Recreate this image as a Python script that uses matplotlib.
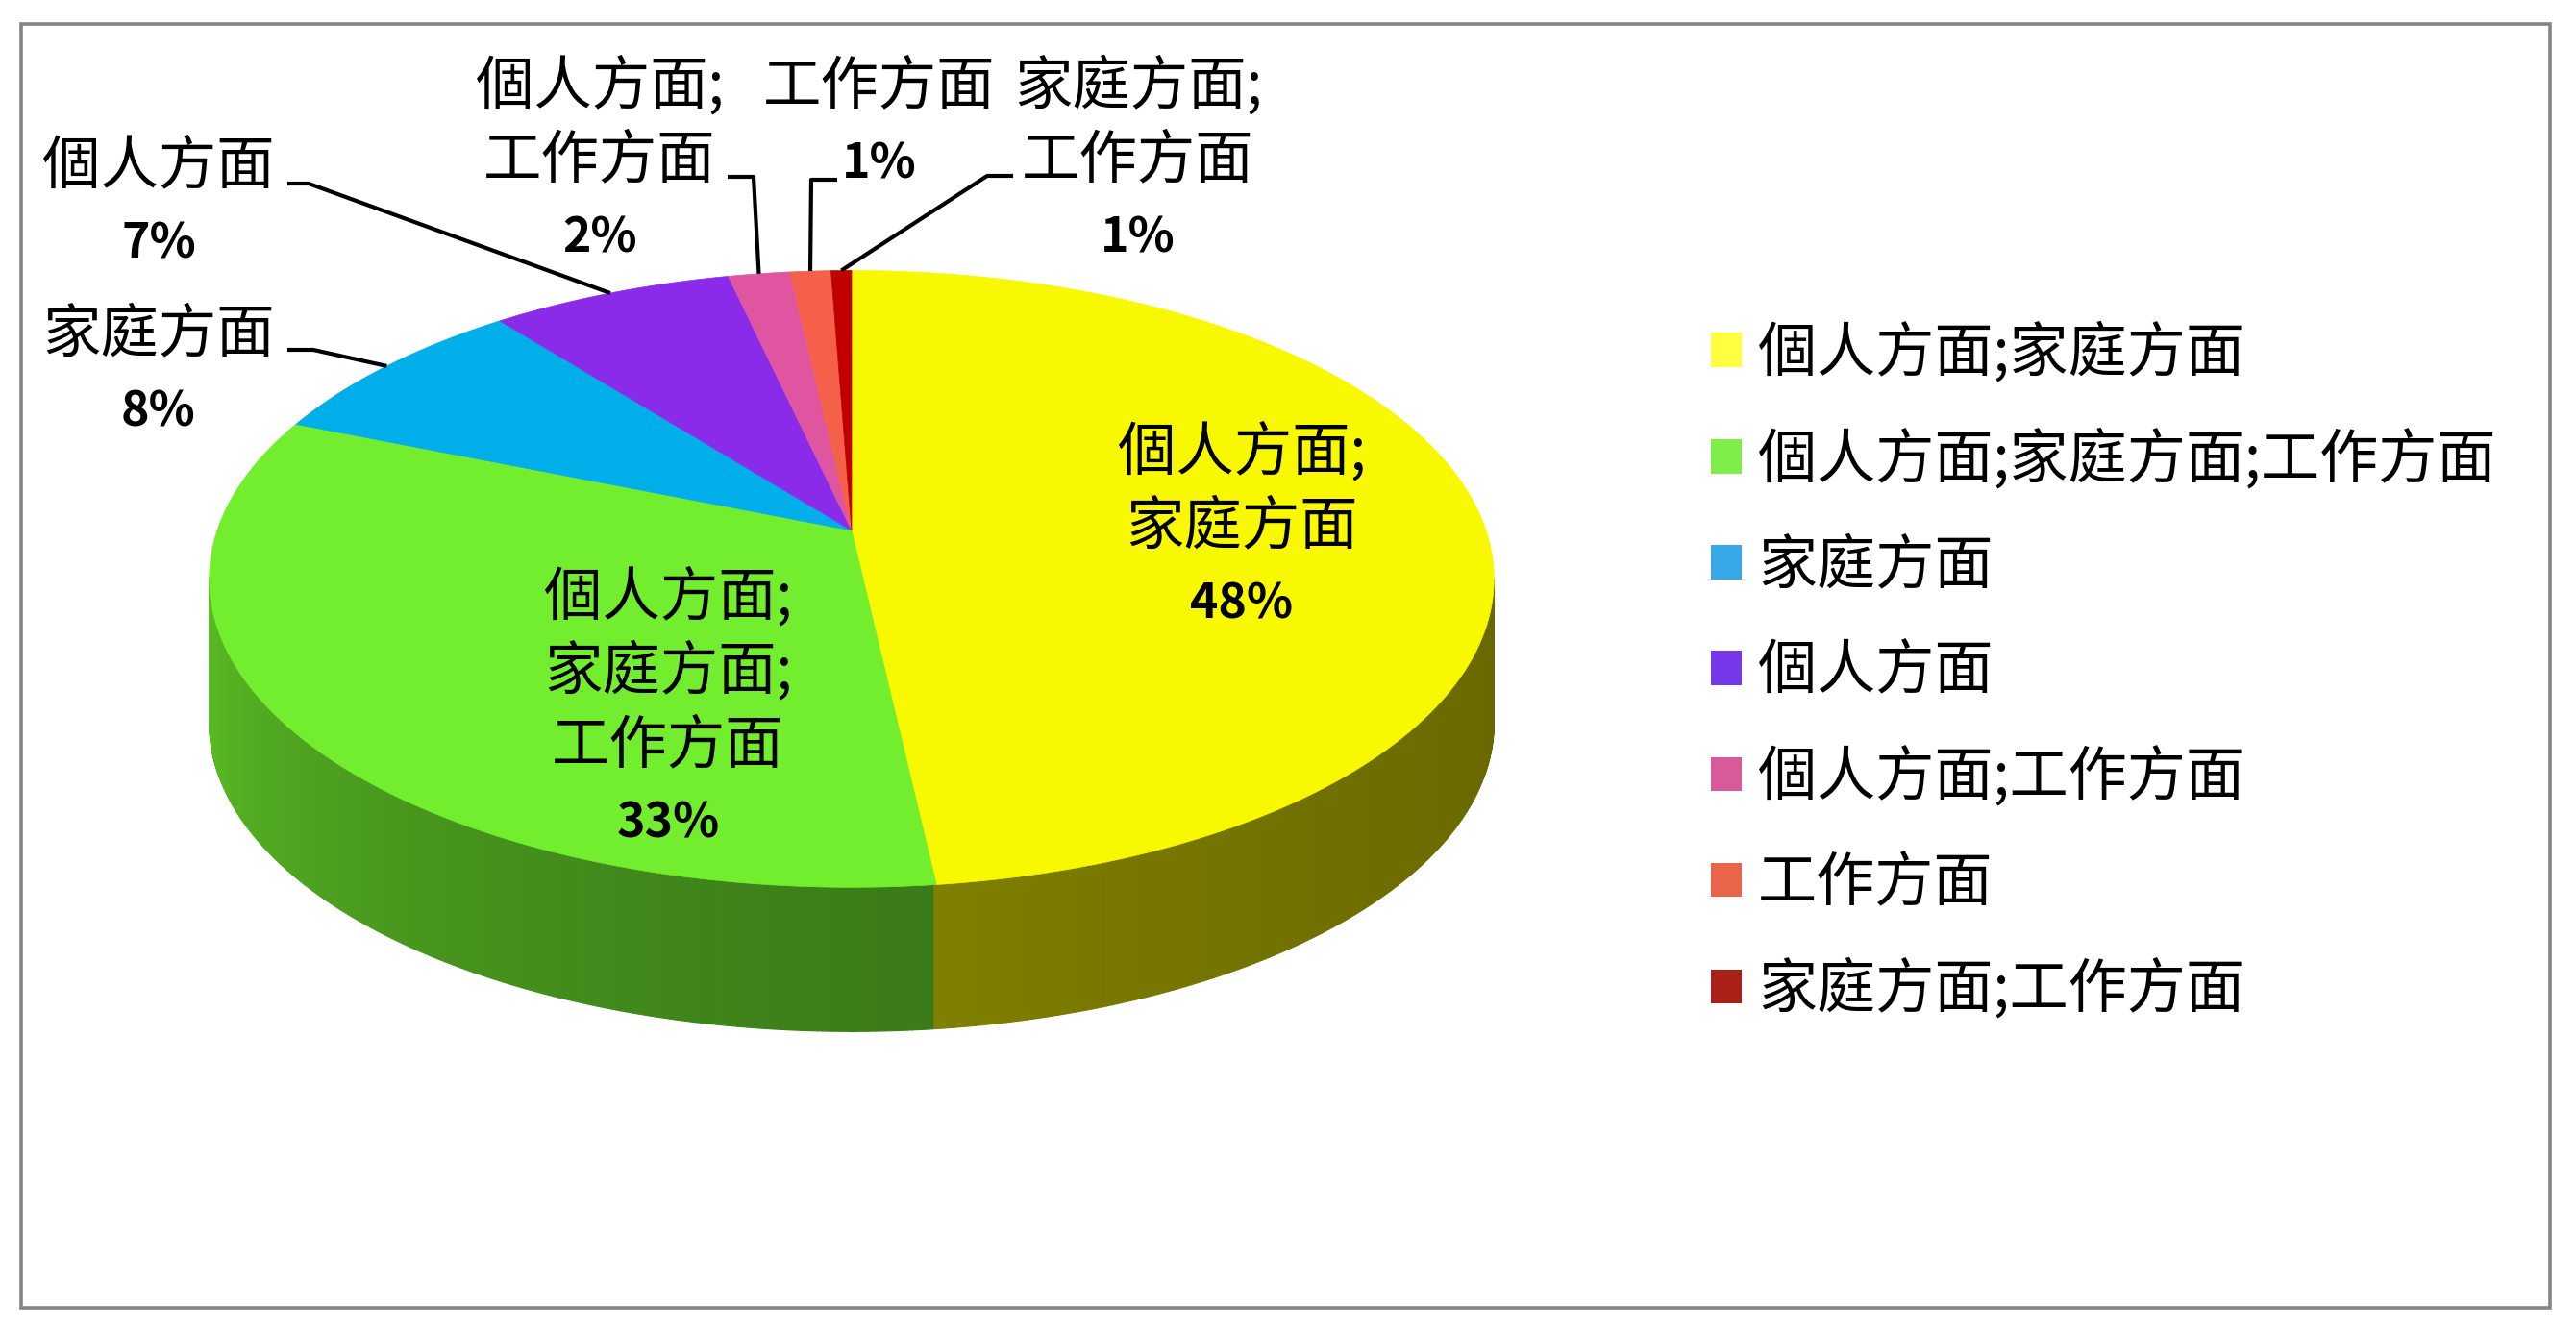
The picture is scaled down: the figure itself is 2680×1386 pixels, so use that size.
import numpy as np
import matplotlib
matplotlib.use('Agg')
import matplotlib.pyplot as plt
from matplotlib.patches import Polygon, Patch, Rectangle
from matplotlib.collections import PolyCollection
from matplotlib.colors import to_rgb

plt.rcParams['font.family'] = ['Noto Sans CJK TC', 'DejaVu Sans']

# data (share of answers, %)
labels = ['個人方面;家庭方面', '個人方面;家庭方面;工作方面', '家庭方面', '個人方面',
          '個人方面;工作方面', '工作方面', '家庭方面;工作方面']
shares = [48.2, 32.9, 8.2, 7.1, 1.8, 1.2, 0.6]

top_colors = ['#f8f800', '#72ee2e', '#00aeea', '#8a2bea', '#e0559f', '#f4604a', '#c00000']
legend_colors = ['#ffff40', '#80ee48', '#38a8e8', '#7638e8', '#d85a98', '#e8654a', '#a82018']

# label layout: (x, y of first line) and leader path start for outside labels
label_pos = [(1292, 471), (695, 622), (165, 348), (165, 173), (624, 90), (915, 90), (1184, 90)]
leader_start = [None, None,
                [(299, 364), (326, 364)],
                [(299, 191), (321, 191)],
                [(757, 184), (784, 184)],
                [(871, 187), (844, 187)],
                [(1054, 183), (1027, 183)]]
line_step = 77
pct_shift = 4

fig = plt.figure(figsize=(26.8, 13.86), dpi=100)
ax = fig.add_axes([0, 0, 1, 1])
ax.set_xlim(0, 2680)
ax.set_ylim(1386, 0)
ax.axis('off')

# pie geometry in pixels (perspective tilted disc)
cx, cy = 886, 552
rx, ry = 660, 313
tilt = 0.157
depth = 150


def proj(theta, dy=0.0):
    t = np.radians(theta)
    d = 1 + tilt * np.sin(t)
    return cx + rx * np.cos(t) / d, cy - ry * np.sin(t) / d + dy


cum = np.concatenate([[0], np.cumsum(shares)]) / np.sum(shares)
starts = 90 - cum[:-1] * 360
ends = 90 - cum[1:] * 360

# side wall (front half only), shaded by angle
t_tan = np.degrees(np.arcsin(tilt))
thetas = np.linspace(-180 + t_tan, -t_tan, 400)
quads, qcols = [], []
for a, b in zip(thetas[:-1], thetas[1:]):
    m = 0.5 * (a + b)
    frac = ((90 - m) % 360) / 360
    idx = np.searchsorted(cum, frac, side='right') - 1
    idx = min(idx, len(shares) - 1)
    f = 0.42 + 0.43 * ((-m) / 180) ** 2
    c = np.array(to_rgb(top_colors[idx])) * f
    x0, y0 = proj(a)
    x1, y1 = proj(b)
    quads.append([(x0, y0), (x1, y1), (x1, y1 + depth), (x0, y0 + depth)])
    qcols.append(c)
ax.add_collection(PolyCollection(quads, facecolors=qcols, edgecolors=qcols,
                                 linewidths=0.8, zorder=1))

# top face
for s, e, col in zip(starts, ends, top_colors):
    tt = np.linspace(s, e, max(int(abs(s - e) * 3), 4))
    xs, ys = proj(tt)
    pts = [(cx, cy)] + list(zip(xs, ys))
    ax.add_patch(Polygon(pts, closed=True, facecolor=col, edgecolor=col,
                         linewidth=0.5, zorder=2))

# data labels
for i, (lab, v) in enumerate(zip(labels, shares)):
    parts = lab.split(';')
    lines = [p + ';' for p in parts[:-1]] + [parts[-1]]
    x, y = label_pos[i]
    for j, ln in enumerate(lines):
        ax.text(x, y + j * line_step, ln, fontsize=43.5, ha='center', va='center', zorder=5)
    ax.text(x, y + len(lines) * line_step + pct_shift, f'{round(v)}%', fontsize=36,
            fontweight='bold', ha='center', va='center', zorder=5)
    if leader_start[i] is not None:
        mx, my = proj(0.5 * (starts[i] + ends[i]))
        px = [p[0] for p in leader_start[i]] + [mx]
        py = [p[1] for p in leader_start[i]] + [my]
        ax.plot(px, py, color='black', lw=3.0, zorder=4, solid_capstyle='butt')

# legend
handles = [Patch(facecolor=c, edgecolor='none') for c in legend_colors]
ax.legend(handles, labels, loc='upper left', bbox_to_anchor=(1780, 336),
          bbox_transform=ax.transData, frameon=False, fontsize=44,
          handlelength=0.52, handleheight=0.52, handletextpad=0.28,
          labelspacing=0.775, borderpad=0, borderaxespad=0)

# outer frame
ax.add_patch(Rectangle((22, 25), 2631, 1336, fill=False, edgecolor='#858585',
                       linewidth=2.6, zorder=6))

plt.savefig('out.png', dpi=100)
